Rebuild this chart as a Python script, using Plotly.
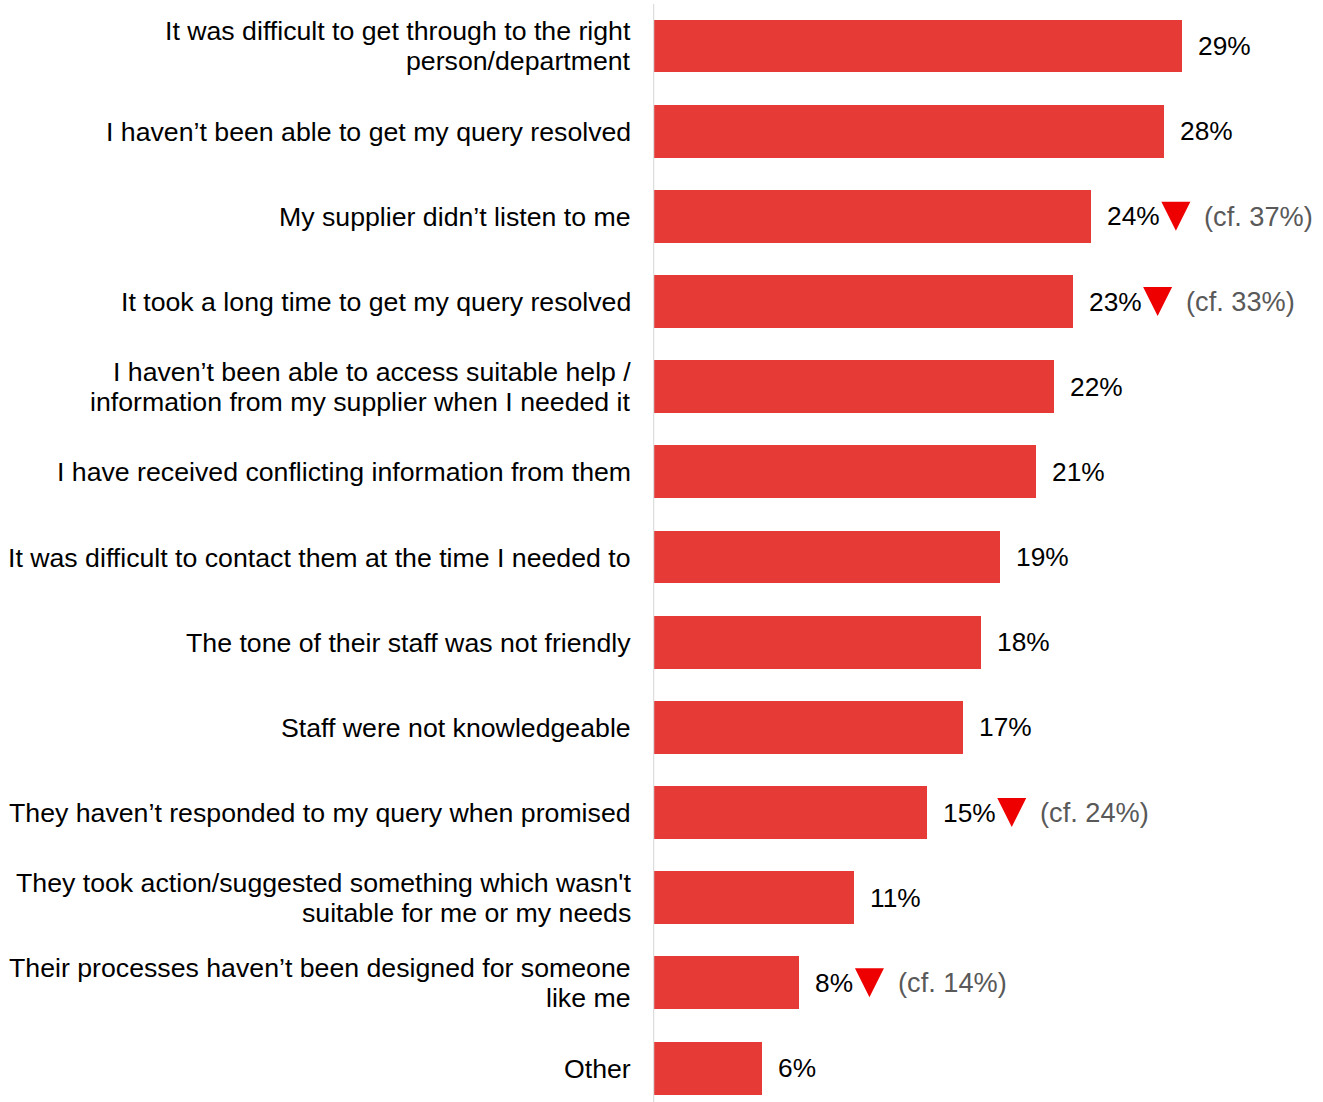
import plotly.graph_objects as go

# Reasons for dissatisfaction, top to bottom
categories = [
    ["It was difficult to get through to the right", "person/department"],
    ["I haven\u2019t been able to get my query resolved"],
    ["My supplier didn\u2019t listen to me"],
    ["It took a long time to get my query resolved"],
    ["I haven\u2019t been able to access suitable help /", "information from my supplier when I needed it"],
    ["I have received conflicting information from them"],
    ["It was difficult to contact them at the time I needed to"],
    ["The tone of their staff was not friendly"],
    ["Staff were not knowledgeable"],
    ["They haven\u2019t responded to my query when promised"],
    ["They took action/suggested something which wasn't", "suitable for me or my needs"],
    ["Their processes haven\u2019t been designed for someone", "like me"],
    ["Other"],
]
values = [29, 28, 24, 23, 22, 21, 19, 18, 17, 15, 11, 8, 6]
# Previous-wave comparison, shown where the drop is significant
previous = [None, None, 37, 33, None, None, None, None, None, 24, None, 14, None]

BAR = "#E53A36"
FONT = "Liberation Sans, Arial, sans-serif"
FS_LABEL = 26.7
FS = 26.3
positions = list(range(len(values)))

fig = go.Figure()
fig.add_trace(go.Bar(
    x=values, y=positions, orientation="h",
    marker=dict(color=BAR, line=dict(width=0)),
    width=0.622, hoverinfo="skip",
))

annotations = []
shapes = []

# Category labels, one annotation per line for tight line spacing
for i, lines in enumerate(categories):
    n = len(lines)
    for j, line in enumerate(lines):
        offset = (j - (n - 1) / 2) * 30
        annotations.append(dict(
            x=0, xref="x", y=i, yref="y", text=line, showarrow=False,
            xanchor="right", yanchor="middle", xshift=-20, yshift=-offset - 0.5,
            font=dict(family=FONT, size=FS_LABEL, color="#000000"),
        ))

def text_width(s):
    w = {"%": 0.889, ".": 0.278}
    return sum(w.get(c, 0.556) for c in s) * FS

for i, (v, p) in enumerate(zip(values, previous)):
    label = f"{v}%"
    annotations.append(dict(
        x=v, xref="x", y=i, yref="y", text=label, showarrow=False,
        xanchor="left", yanchor="middle", xshift=14,
        font=dict(family=FONT, size=FS, color="#000000"),
    ))
    if p is not None:
        left = 16 + text_width(label) + 2
        shapes.append(dict(
            type="path", xref="x", yref="y",
            xsizemode="pixel", ysizemode="pixel", xanchor=v, yanchor=i,
            path=f"M {left},14.5 L {left + 29},14.5 L {left + 14.5},-14.5 Z",
            fillcolor="#EE0000", line=dict(width=0),
        ))
        annotations.append(dict(
            x=v, xref="x", y=i, yref="y", text=f"(cf. {p}%)", showarrow=False,
            xanchor="left", yanchor="middle", xshift=left + 29 + 12,
            font=dict(family=FONT, size=27.2, color="#595959"),
        ))

# Vertical baseline
shapes.append(dict(
    type="line", xref="x", yref="paper", x0=0, x1=0, y0=0, y1=1,
    line=dict(color="#DDDDDD", width=2.5),
))

fig.update_layout(
    width=1323, height=1102,
    margin=dict(l=653, r=0, t=4, b=0),
    paper_bgcolor="white", plot_bgcolor="white",
    showlegend=False,
    xaxis=dict(range=[0, 670 / 18.24], visible=False, fixedrange=True),
    yaxis=dict(range=[12.399, -0.493], visible=False, fixedrange=True),
    annotations=annotations,
    shapes=shapes,
    bargap=0,
)

fig.write_html("out.html", config={"displayModeBar": False})
